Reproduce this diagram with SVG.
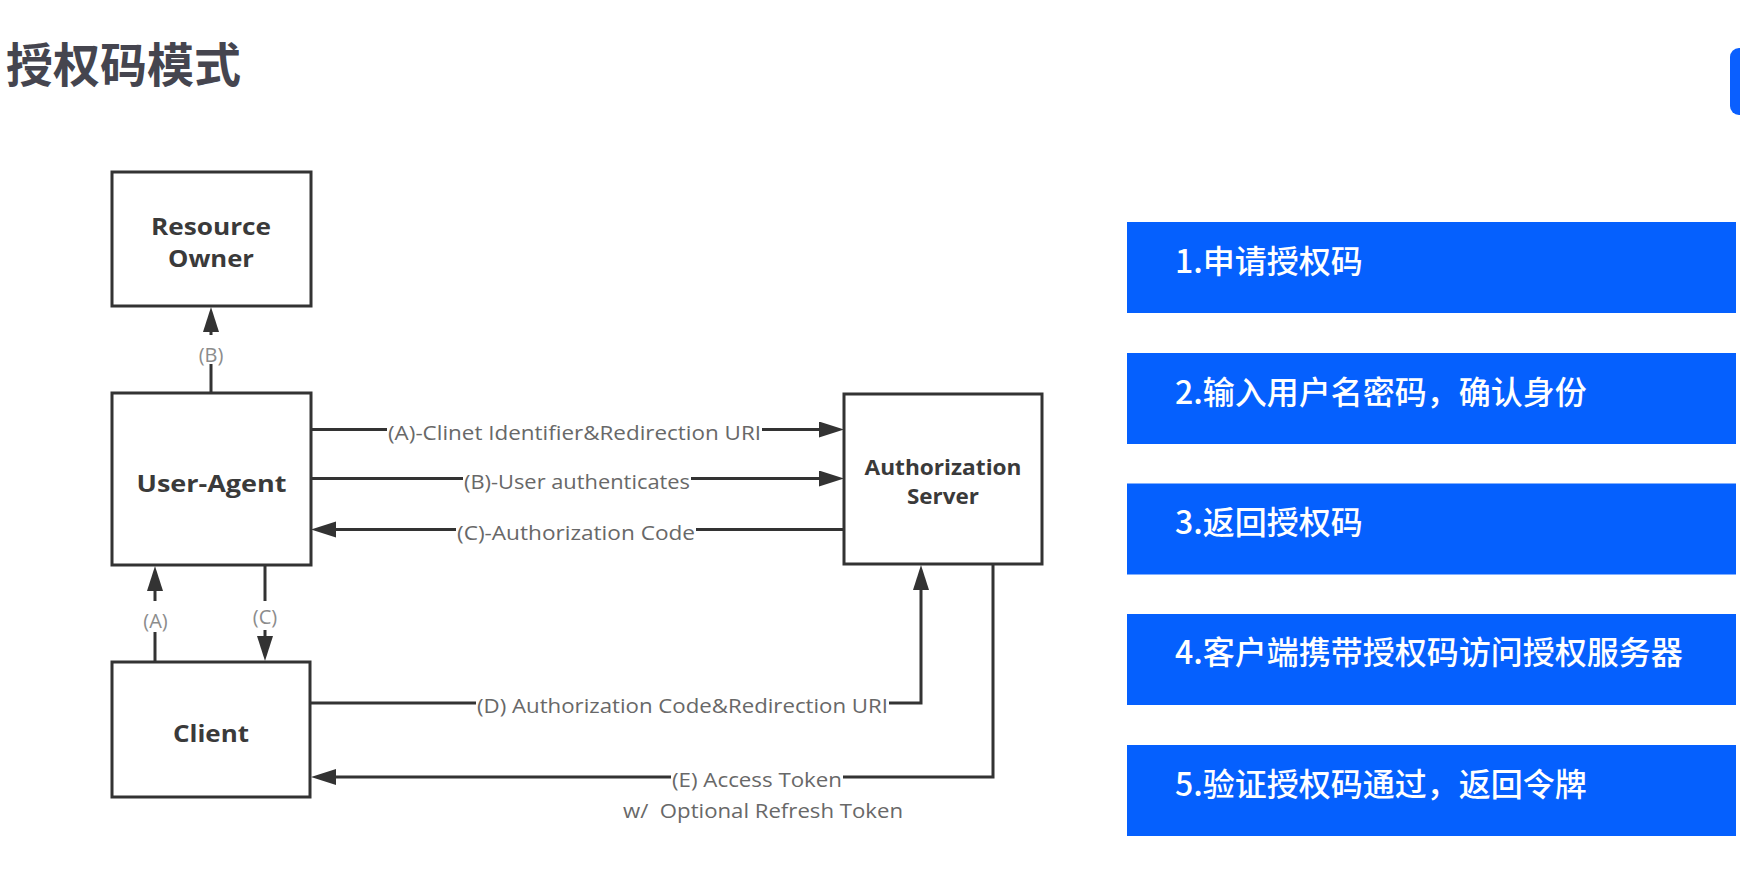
<svg xmlns="http://www.w3.org/2000/svg" width="1740" height="869" viewBox="0 0 1740 869">
<style>
.box{fill:#fff;stroke:#333;stroke-width:3}
.line{fill:none;stroke:#333;stroke-width:3}
.node{font-family:"Open Sans","Liberation Sans",sans-serif;font-weight:700;font-size:24px;fill:#3a3a3a;text-anchor:middle}
.node2{font-family:"Open Sans","Liberation Sans",sans-serif;font-weight:700;font-size:22px;fill:#3a3a3a;text-anchor:middle}
.lbl{font-family:"Open Sans","Liberation Sans",sans-serif;font-size:20px;fill:#686868}
.vlbl{font-family:"Open Sans","Liberation Sans",sans-serif;font-size:20px;fill:#8c8c8c;text-anchor:middle}
.bg{fill:#fff}
.step{fill:#0560fe}
.steptxt{font-family:"Noto Sans CJK SC","Noto Sans",sans-serif;font-size:32px;font-weight:500;fill:#fff}
.title{font-family:"Noto Sans CJK SC","Noto Sans",sans-serif;font-size:47px;font-weight:700;fill:#45454f}
</style>
<defs>
<marker id="arr" markerUnits="userSpaceOnUse" markerWidth="26" markerHeight="18" refX="15" refY="8" orient="auto">
<path d="M0,0 L25,8 L0,16 Z" fill="#333"/>
</marker>
</defs>
<rect width="1740" height="869" fill="#fff"/>
<text class="title" x="6" y="82">授权码模式</text>
<rect x="1730" y="48" width="20" height="67" rx="9" fill="#0a5fff"/>

<g id="connectors">
<path class="line" d="M211,393 L211,317" marker-end="url(#arr)"/>
<path class="line" d="M305,429.5 L834,429.5" marker-end="url(#arr)"/>
<path class="line" d="M311,478.5 L834,478.5" marker-end="url(#arr)"/>
<path class="line" d="M844,529.5 L321,529.5" marker-end="url(#arr)"/>
<path class="line" d="M155,662 L155,576" marker-end="url(#arr)"/>
<path class="line" d="M265,565 L265,651" marker-end="url(#arr)"/>
<path class="line" d="M310,703 L921,703 L921,575" marker-end="url(#arr)"/>
<path class="line" d="M993,564 L993,777 L321,777" marker-end="url(#arr)"/>
<g id="labels">
<rect class="bg" x="387" y="419" width="375" height="22"/>
<text class="lbl" x="388" y="440" textLength="373" lengthAdjust="spacingAndGlyphs">(A)-Clinet Identifier&amp;Redirection URI</text>
<rect class="bg" x="463" y="468" width="228" height="22"/>
<text class="lbl" x="464" y="489" textLength="226" lengthAdjust="spacingAndGlyphs">(B)-User authenticates</text>
<rect class="bg" x="456" y="519" width="240" height="22"/>
<text class="lbl" x="457" y="540" textLength="238" lengthAdjust="spacingAndGlyphs">(C)-Authorization Code</text>
<rect class="bg" x="476" y="692" width="413" height="22"/>
<text class="lbl" x="477" y="713" textLength="411" lengthAdjust="spacingAndGlyphs">(D) Authorization Code&amp;Redirection URI</text>
<rect class="bg" x="671" y="766" width="172" height="22"/>
<text class="lbl" x="672" y="787" textLength="170" lengthAdjust="spacingAndGlyphs">(E) Access Token</text>
<text class="lbl" x="623" y="818" textLength="280" lengthAdjust="spacingAndGlyphs" xml:space="preserve">w/  Optional Refresh Token</text>
<rect class="bg" x="196" y="335" width="30" height="29"/>
<text class="vlbl" x="211" y="362">(B)</text>
<rect class="bg" x="140" y="601" width="31" height="31"/>
<text class="vlbl" x="155.5" y="628">(A)</text>
<rect class="bg" x="250" y="601" width="30" height="29"/>
<text class="vlbl" x="265" y="624">(C)</text>
</g>
</g>

<g id="resource-owner">
<rect class="box" x="112" y="172" width="199" height="134"/>
<text class="node" x="211" y="235" textLength="120" lengthAdjust="spacingAndGlyphs">Resource</text>
<text class="node" x="211" y="267" textLength="86" lengthAdjust="spacingAndGlyphs">Owner</text>
</g>
<g id="user-agent">
<rect class="box" x="112" y="393" width="199" height="172"/>
<text class="node" x="211.5" y="492" textLength="150" lengthAdjust="spacingAndGlyphs">User-Agent</text>
</g>
<g id="client">
<rect class="box" x="112" y="662" width="198" height="135"/>
<text class="node" x="211" y="742" textLength="76" lengthAdjust="spacingAndGlyphs">Client</text>
</g>
<g id="authorization-server">
<rect class="box" x="844" y="394" width="198" height="170"/>
<text class="node2" x="943" y="475" textLength="157" lengthAdjust="spacingAndGlyphs">Authorization</text>
<text class="node2" x="943" y="504" textLength="72" lengthAdjust="spacingAndGlyphs">Server</text>
</g>

<g id="step1">
<rect class="step" x="1127" y="222" width="609" height="91"/>
<text class="steptxt" x="1175" y="272.5">1.申请授权码</text>
</g>
<g id="step2">
<rect class="step" x="1127" y="353" width="609" height="91"/>
<text class="steptxt" x="1175" y="403.5">2.输入用户名密码，确认身份</text>
</g>
<g id="step3">
<rect class="step" x="1127" y="483.5" width="609" height="91"/>
<text class="steptxt" x="1175" y="534">3.返回授权码</text>
</g>
<g id="step4">
<rect class="step" x="1127" y="614" width="609" height="91"/>
<text class="steptxt" x="1175" y="664">4.客户端携带授权码访问授权服务器</text>
</g>
<g id="step5">
<rect class="step" x="1127" y="745" width="609" height="91"/>
<text class="steptxt" x="1175" y="795.5">5.验证授权码通过，返回令牌</text>
</g>
</svg>
